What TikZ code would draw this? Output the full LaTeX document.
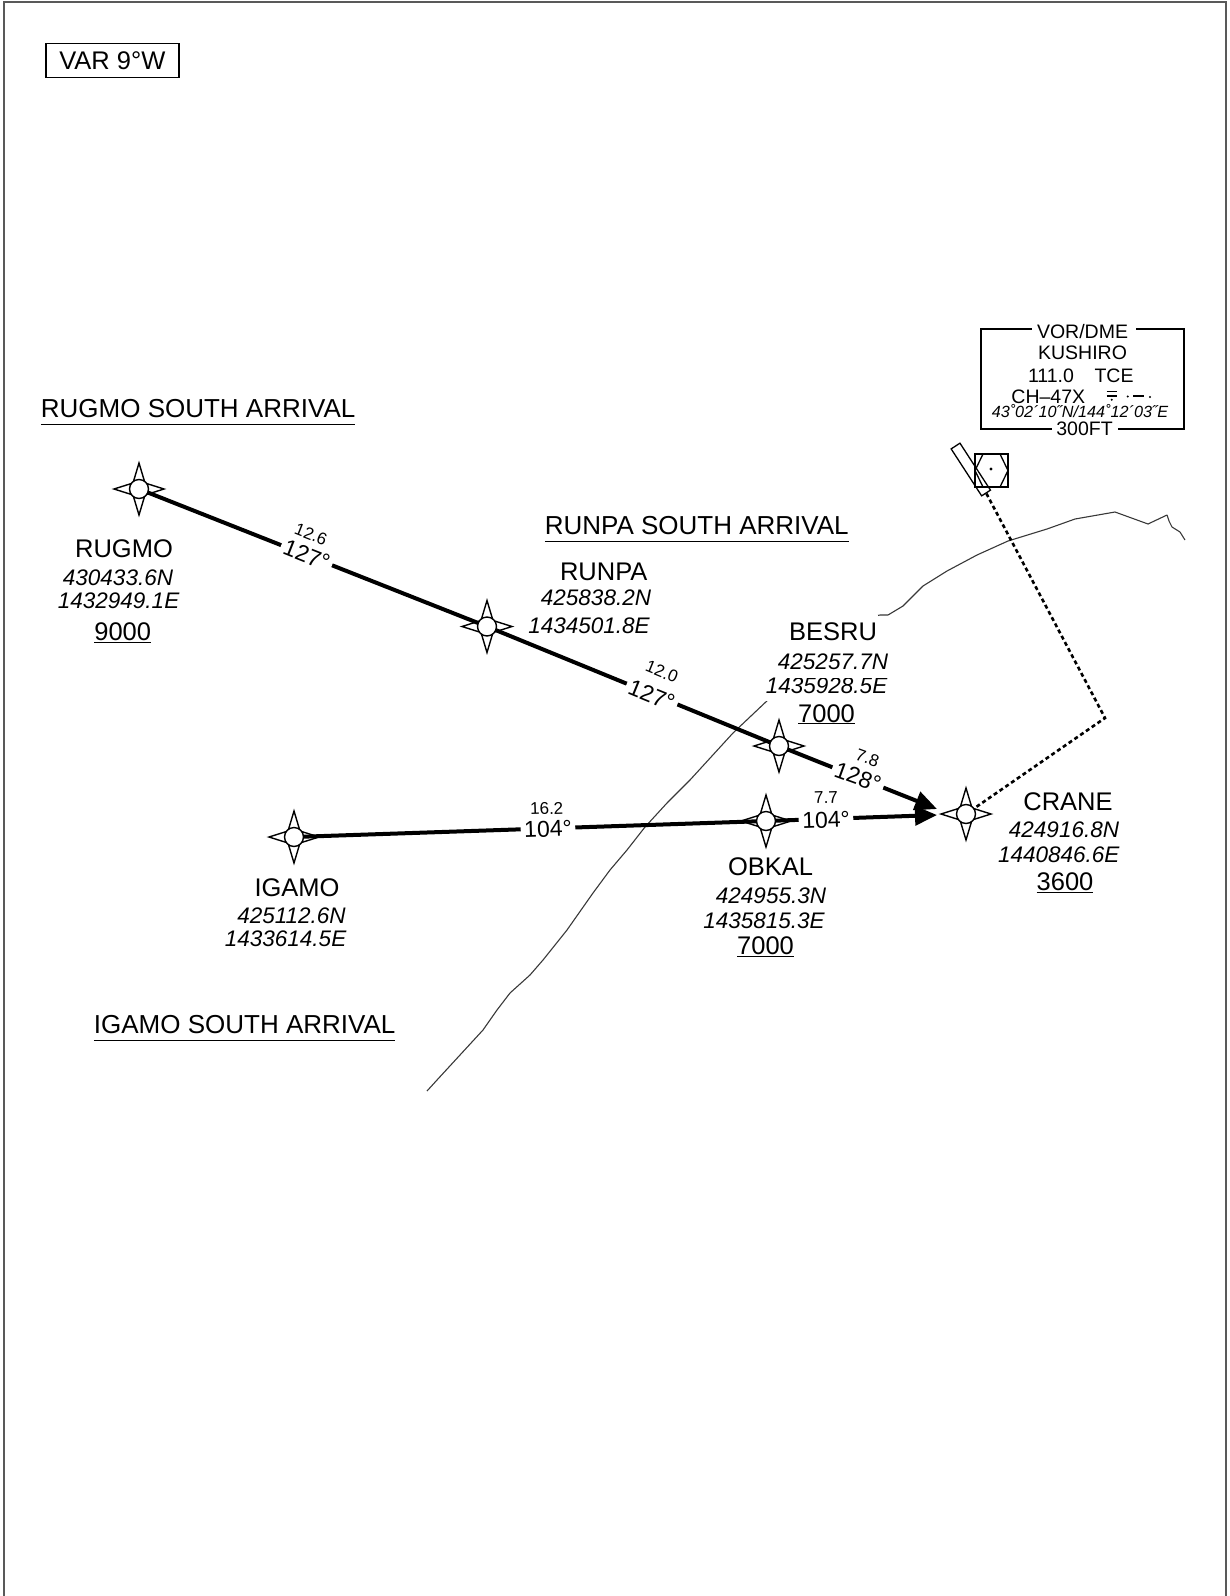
\documentclass[tikz,border=0pt]{standalone}
\usepackage{fontspec}
\setmainfont{Liberation Sans}
\usetikzlibrary{arrows.meta}
\begin{document}
\begin{tikzpicture}[x=1pt,y=-1pt,
  leg/.style={line width=4pt, line cap=butt},
  nm/.style={font=\fontsize{25.5}{30}\selectfont, inner sep=0pt, anchor=base},
  crd/.style={font=\fontsize{22.5}{27}\selectfont\itshape, inner sep=0pt, anchor=base},
  whitebg/.style={fill=white, inner xsep=1pt, inner ysep=7.5pt},
  ttl/.style={font=\fontsize{26}{30}\selectfont, inner sep=0pt, anchor=base west},
  brg/.style={font=\fontsize{23}{27}\selectfont, fill=white, inner xsep=3.5pt, inner ysep=1pt},
  dst/.style={font=\fontsize{17}{20}\selectfont, inner sep=0pt},
  boxt/.style={font=\fontsize{19.5}{22}\selectfont, inner sep=0pt, anchor=base},
  thin/.style={line width=1.3pt},
  coast/.style={line width=1.1pt, draw=black!78, line join=round},
  dots/.style={line width=2.6pt, dash pattern=on 4pt off 3pt},
  wpsym/.pic={
    \draw[line width=1.4pt, line join=miter] (0,-26)--(6,-6)--(25,0)--(6,6)--(0,26)--(-6,6)--(-25,0)--(-6,-6)--cycle;
    \draw[line width=1.4pt, fill=white] (0,0) circle (9.5pt);
  }]
\useasboundingbox (0,0) rectangle (1230,1596);
% frame
\draw[line width=2pt, draw=black!65] (4,1596) -- (4,2) -- (1226,2) -- (1226,1596);
% variation box
\node[draw, line width=1.5pt, minimum width=133pt, minimum height=34pt, inner sep=0pt,
      font=\fontsize{25.5}{30}\selectfont] (var) at (112.4,60.3) {VAR 9°W};
% titles
\node[ttl] (t1) at (40.7,417) {\underline{\vphantom{g}RUGMO SOUTH ARRIVAL}};
\node[ttl] (t2) at (544.6,534.5) {\underline{\vphantom{g}RUNPA SOUTH ARRIVAL}};
\node[ttl] (t3) at (93.7,1033) {\underline{\vphantom{g}IGAMO SOUTH ARRIVAL}};
% coastline
\draw[coast] (427,1091) -- (437,1080) -- (460,1055) -- (483,1030) -- (497,1010) -- (510,993)
  -- (530,975) -- (543,960) -- (567,930) -- (593,893) -- (610,870) -- (627,850) -- (645,827)
  -- (667,803) -- (690,780) -- (733,733) -- (770,698) -- (804,662) -- (840,632) -- (862,619)
  -- (880,615) -- (888,615) -- (903,606) -- (923,586) -- (947,571) -- (977,555) -- (1008,541)
  -- (1047,529) -- (1075,519) -- (1115,512) -- (1148,524) -- (1167,515) -- (1169,521)
  -- (1172,527) -- (1180,532) -- (1185,540);
% waypoint positions
\coordinate (rugmo) at (139,489);
\coordinate (runpa) at (487,626.5);
\coordinate (besru) at (779,746);
\coordinate (crane) at (966,814);
\coordinate (igamo) at (294,837);
\coordinate (obkal) at (766,821);
\coordinate (tipU) at (937,809);
\coordinate (tipL) at (937,815);
\coordinate (corner) at (1105,718);
% VOR/DME
\node[draw, thin, rotate=-57, minimum width=56pt, minimum height=10.5pt, inner sep=0pt] (dme) at (970.8,469.5) {};
\node[draw, thin, minimum size=33pt, inner sep=0pt] (vor) at (991.5,470.5) {};
\draw[thin] (975,470.5) -- (983,454) -- (1000,454) -- (1008,470.5) -- (1000,487) -- (983,487) -- cycle;
\fill (991,469) circle (1.7pt);
\draw[dots] (dme.east) -- (corner) -- (crane);
% legs
\draw[leg] (rugmo) -- (runpa);
\draw[leg] (runpa) -- (besru);
\draw[leg, -{Triangle[length=22pt,width=19pt]}] (besru) -- (tipU);
\draw[leg] (igamo) -- (obkal);
\draw[leg, -{Triangle[length=22pt,width=19pt]}] (obkal) -- (tipL);
% leg labels
\node[brg, rotate=-21.6] (b1) at (306.7,555) {127°};
\node[dst, rotate=-21.6] (d1) at (311,534.5) {12.6};
\node[brg, rotate=-22.2] (b2) at (651.7,695) {127°};
\node[dst, rotate=-22.2] (d2) at (662,671.8) {12.0};
\node[brg, rotate=-20] (b3) at (858,777) {128°};
\node[dst, rotate=-20] (d3) at (867.5,757.8) {7.8};
\node[brg, rotate=1.9] (b4) at (548,829) {104°};
\node[dst, rotate=1.9] (d4) at (546.7,808.5) {16.2};
\node[brg, rotate=2] (b5) at (826,820) {104°};
\node[dst, rotate=2] (d5) at (826,797.5) {7.7};
% waypoint symbols
\foreach \p in {rugmo,runpa,besru,crane,igamo,obkal} { \pic at (\p) {wpsym}; }
% waypoint texts
\node[nm] (n1) at (124,557.1) {RUGMO};
\node[crd] (c1a) at (118,585.3) {430433.6N};
\node[crd] (c1b) at (118.6,608.7) {1432949.1E};
\node[nm] (a1) at (122.7,640.3) {\underline{9000}};
\node[nm] (n2) at (603.7,580.1) {RUNPA};
\node[crd] (c2a) at (596,605.7) {425838.2N};
\node[crd] (c2b) at (589,633) {1434501.8E};
\node[crd, whitebg] (c3b) at (826.6,693) {1435928.5E};
\node[crd, whitebg] (c3a) at (833,669.8) {425257.7N};
\node[nm, whitebg] (n3) at (833,640.1) {BESRU};
\node[nm] (a3) at (826.5,722) {\underline{7000}};
\node[nm] (n4) at (1068,810.1) {CRANE};
\node[crd] (c4a) at (1064,837.8) {424916.8N};
\node[crd] (c4b) at (1058.7,862) {1440846.6E};
\node[nm] (a4) at (1065,890.7) {\underline{3600}};
\node[nm] (n5) at (297,896.8) {IGAMO};
\node[crd] (c5a) at (291.5,923) {425112.6N};
\node[crd] (c5b) at (285.6,946.7) {1433614.5E};
\node[nm] (n6) at (770.6,875.1) {OBKAL};
\node[crd] (c6a) at (771,903) {424955.3N};
\node[crd] (c6b) at (764,928) {1435815.3E};
\node[nm] (a6) at (765.5,954.1) {\underline{7000}};
% navaid box
\draw[thin] (1031.7,329) -- (981,329) -- (981,429) -- (1051.7,429);
\draw[thin] (1136,329) -- (1184,329) -- (1184,429) -- (1118,429);
\node[boxt] (v1) at (1082.5,338.7) {VOR/DME};
\node[boxt] (v2) at (1082.5,359.7) {KUSHIRO};
\node[boxt] (v3) at (1051,382) {111.0};
\node[boxt] (v4) at (1114,382) {TCE};
\node[boxt] (v5) at (1048.3,403) {CH–47X};
\node[font=\fontsize{16.2}{18}\selectfont\itshape, inner sep=0pt, anchor=base] (v6) at (1080,417.2) {43˚02´10˝N/144˚12´03˝E};
\node[boxt] (v7) at (1084.5,435.3) {300FT};
% morse
\draw[line width=1.2pt] (1106.7,391.7) -- (1117.3,391.7) (1106.7,396) -- (1117.3,396) (1133,396) -- (1144,396);
\fill (1111.7,399.8) circle (1.1pt) (1127.7,396.5) circle (1.1pt) (1150,397) circle (1.1pt);
\end{tikzpicture}
\end{document}
